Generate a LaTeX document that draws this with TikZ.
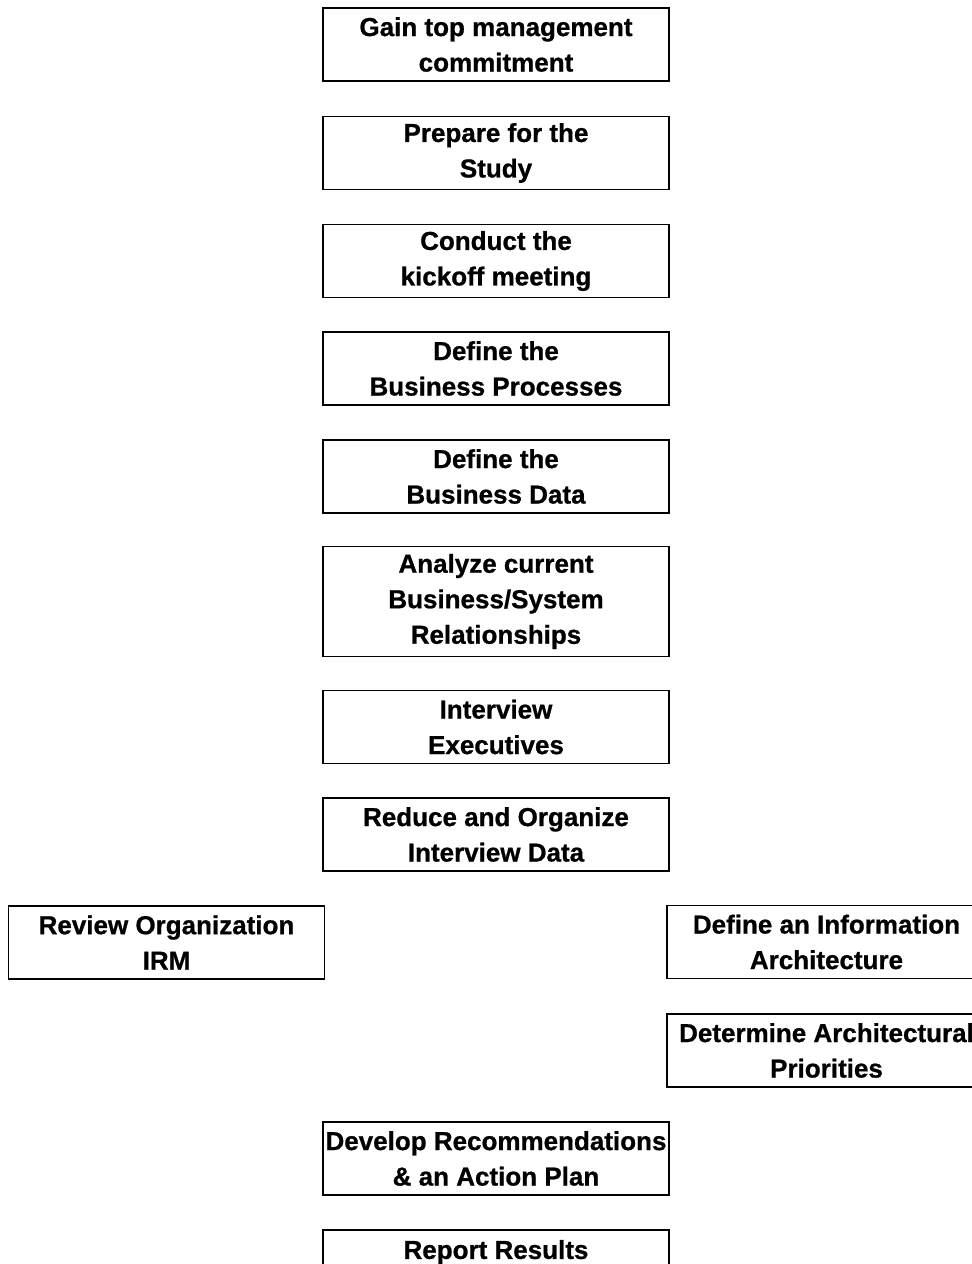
\documentclass[tikz,border=0pt]{standalone}
\usepackage{fontspec}
\setmainfont{Liberation Sans}[BoldFeatures={FakeBold=0.8}]
\begin{document}
\begin{tikzpicture}[x=1pt,y=-1pt,
  stepbox/.style={draw=black, line width=1.8pt, align=center, inner sep=0pt,
    minimum width=346pt, minimum height=73pt,
    font=\bfseries\fontsize{26}{35.5}\selectfont},
  sidebox/.style={stepbox, minimum width=316pt},
  tallbox/.style={stepbox, minimum height=110pt}]
\path[use as bounding box, clip] (0,0) rectangle (972,1264);
\fill[white] (0,0) rectangle (972,1264);
\node[stepbox] (gain) at (496,44.5) {Gain top management\\commitment};
\node[stepbox] (prep) at (496,153) {Prepare for the\\Study};
\node[stepbox] (kick) at (496,261) {Conduct the\\kickoff meeting};
\node[stepbox] (proc) at (496,368.5) {Define the\\Business Processes};
\node[stepbox] (data) at (496,476.5) {Define the\\Business Data};
\node[tallbox] (anal) at (496,601.5) {Analyze current\\Business/System\\Relationships};
\node[stepbox] (intv) at (496,727) {Interview\\Executives};
\node[stepbox] (redu) at (496,834.5) {Reduce and Organize\\Interview Data};
\node[sidebox] (revw) at (166.5,942.5) {Review Organization\\IRM};
\node[sidebox, minimum width=319pt] (info) at (826.5,942) {Define an Information\\Architecture};
\node[sidebox, minimum width=319pt] (prio) at (826.5,1050.5) {Determine Architectural\\Priorities};
\node[stepbox] (recs) at (496,1158.5) {Develop Recommendations\\\& an Action Plan};
\node[stepbox, text height=29pt, text depth=44pt, anchor=north] (rept) at (496,1229) {Report Results};
\end{tikzpicture}
\end{document}
